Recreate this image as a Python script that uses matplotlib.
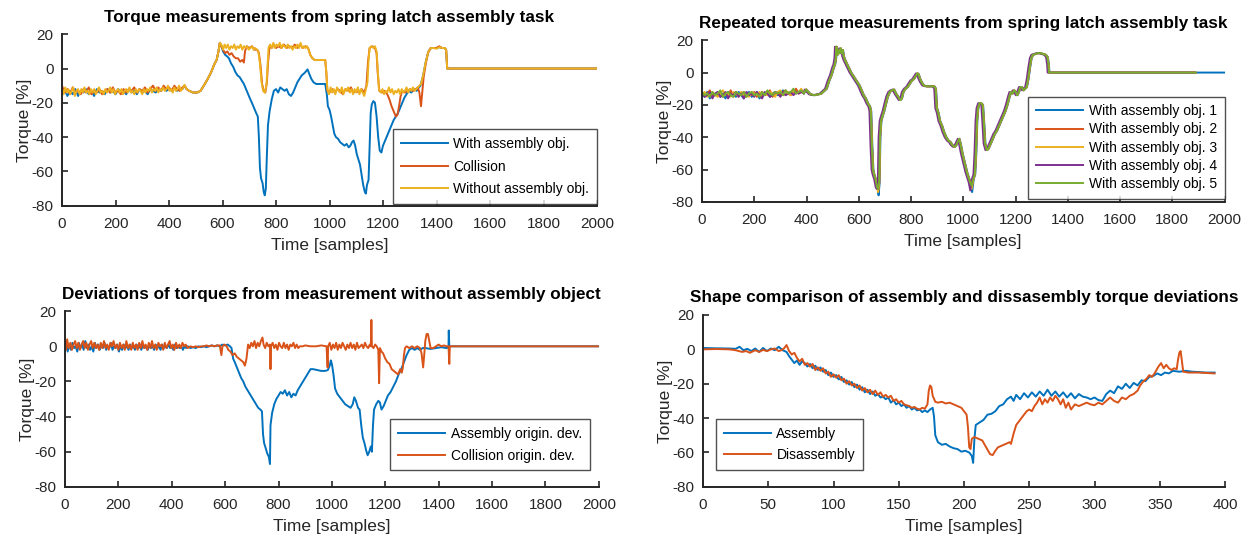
import matplotlib
matplotlib.use('Agg')
import matplotlib.pyplot as plt

plt.rcParams['font.family'] = ['Liberation Sans', 'DejaVu Sans']
plt.rcParams['axes.unicode_minus'] = False

# MATLAB default line colours
c_blue = '#0072BD'
c_orange = '#D95319'
c_yellow = '#EDB120'
c_purple = '#7E2F8E'
c_green = '#77AC30'

# ---------------- panel 1: torque measurements (sample, torque %) ----------------
p1_with = [(0,-14),(10,-12),(20,-16),(30,-13),(40,-15),(50,-12),(60,-16),(70,-13),(80,-14),(90,-12),
    (100,-15),(110,-13),(120,-16),(130,-12),(140,-14),(150,-13),(160,-15),(170,-12),(180,-14),(190,-13),
    (200,-15),(210,-12),(220,-14),(230,-13),(240,-15),(250,-12),(260,-14),(270,-13),(280,-15),(290,-12),
    (300,-14),(310,-13),(320,-15),(330,-12),(340,-13),(350,-14),(360,-12),(370,-13),(380,-11),(390,-13),
    (400,-12),(410,-13),(420,-11),(430,-13),(440,-12),(450,-12),
    (458,-10),(466,-12),(475,-13),(490,-14),(505,-14),(518,-13),(530,-10),(545,-6),(558,-2),(568,2),
    (578,5),(585,10),(590,15),(596,13),(602,10),(610,8),(618,7),(624,6),(632,3),(640,1),(648,-2),
    (656,-4),(664,-5),(672,-7),(680,-9),(688,-12),(696,-15),(704,-18),(710,-20),(718,-23),(726,-26),
    (732,-28),(736,-40),(740,-58),(744,-64),(750,-67),(754,-72),(758,-74),(762,-70),(766,-50),(770,-33),
    (776,-25),(784,-18),(792,-13),(800,-12),(808,-14),(816,-11),(824,-12),(832,-13),(840,-12),(848,-15),
    (856,-16),(864,-14),(872,-11),(880,-8),(888,-6),(896,-4),(904,-3),(910,-2),(918,-0.5),(924,-3),
    (932,-6),(940,-8),(950,-9),(965,-9),(984,-9),(990,-15),(994,-22),(1000,-24),(1006,-28),(1012,-33),
    (1018,-38),(1024,-40),(1032,-41),(1040,-43),(1048,-44),(1056,-45),(1064,-44),(1072,-46),(1078,-45),
    (1084,-43),(1090,-42),(1096,-45),(1102,-50),(1108,-53),(1114,-56),(1120,-62),(1126,-68),(1132,-72),
    (1136,-73),(1140,-68),(1146,-65),(1150,-45),(1154,-26),(1158,-21),(1164,-19),(1170,-20),(1176,-28),
    (1182,-40),(1188,-48),(1194,-49),(1200,-45),(1208,-42),(1216,-39),(1224,-36),(1232,-33),(1240,-30),
    (1248,-28),(1256,-26),(1264,-23),(1272,-20),(1280,-17),(1288,-15),(1296,-13),(1306,-14),(1316,-12),
    (1326,-13),(1334,-11),(1340,-10),(1350,-4),(1360,4),(1370,10),(1380,12),(1390,12),(1400,12),
    (1410,12.5),(1420,12),(1430,12),(1436,11),(1440,0),(2000,0)]

p1_collision = [(0,-10),(10,-14),(20,-12),(30,-15),(40,-11),(50,-14),(60,-13),(70,-15),(80,-12),(90,-14),
    (100,-11),(110,-15),(120,-13),(130,-14),(140,-12),(150,-15),(160,-13),(170,-12),(180,-14),(190,-11),
    (200,-14),(210,-13),(220,-15),(230,-12),(240,-14),(250,-12),(260,-13),(270,-11),(280,-14),(290,-12),
    (300,-13),(310,-11),(320,-14),(330,-12),(340,-10),(350,-13),(360,-11),(370,-13),(380,-10),(390,-12),
    (400,-11),(410,-13),(420,-10),(430,-12),(440,-13),(450,-11),
    (458,-10),(466,-12),(475,-13),(490,-14),(505,-14),(518,-13),(530,-10),(545,-6),(558,-2),(568,2),
    (578,5),(585,10),(590,15),(596,13),(602,11),(610,9),(618,10),(626,8),(634,9),(642,7),(650,6),
    (658,6),(666,4),(674,5),(680,3.5),(684,10),(690,13),(700,12),(710,13),(720,11),(730,11),(736,9),
    (742,2),(748,-9),(754,-13),(760,-14),(766,-8),(770,3),(776,13),(784,12),(792,14),(800,12),(810,13),
    (820,12),(830,14),(840,12),(850,13),(860,12),(870,14),(880,12),(890,14),(900,12),(910,13),(920,12),
    (928,8),(936,6),(945,5),(960,5),(975,5),(984,5),(988,-2),(992,-13),(1000,-14),(1010,-12),(1020,-14),
    (1030,-12),(1040,-13),(1050,-15),(1060,-12),(1070,-13),(1080,-11),(1090,-14),(1100,-13),(1110,-14),
    (1120,-12),(1130,-14),(1138,-10),(1144,4),(1150,12),(1160,13),(1170,12),(1176,9),(1180,-2),
    (1186,-13),(1196,-14),(1206,-13),(1216,-15),(1224,-18),(1232,-22),(1240,-25),(1248,-28),(1254,-27),
    (1260,-22),(1266,-16),(1272,-13),(1282,-14),(1292,-13),(1302,-12),(1312,-13),(1322,-12),(1330,-11),
    (1336,-14),(1342,-22),(1346,-15),(1352,-5),(1360,3),(1368,9),(1378,12),(1390,12),(1400,12),
    (1410,13),(1420,12),(1430,12),(1436,11),(1440,0),(2000,0)]

p1_without = [(0,-12),(6,-15),(12,-11),(18,-14),(24,-12),(30,-15),(36,-13),(42,-11),(48,-16),(54,-13),
    (60,-12),(66,-15),(72,-12),(78,-14),(84,-11),(90,-14),(96,-13),(102,-15),(108,-12),(114,-14),
    (120,-12),(126,-15),(132,-13),(138,-11),(144,-14),(150,-13),(156,-15),(162,-12),(168,-14),(174,-13),
    (180,-11),(186,-14),(192,-12),(198,-15),(204,-13),(210,-12),(216,-14),(222,-12),(228,-15),(234,-13),
    (240,-12),(246,-14),(252,-11),(258,-14),(264,-13),(270,-15),(276,-12),(282,-14),(288,-12),(294,-13),
    (300,-15),(306,-12),(312,-14),(318,-12),(324,-13),(330,-11),(336,-14),(342,-12),(348,-13),(354,-11),
    (360,-14),(366,-12),(372,-13),(378,-11),(384,-13),(390,-12),(396,-10),(402,-13),(408,-12),(414,-14),
    (420,-11),(426,-13),(432,-12),(438,-10),(444,-13),(450,-12),
    (458,-9.5),(466,-12),(475,-13),(490,-14),(505,-14),(518,-13),(530,-10),(545,-6),(558,-2),(568,2),
    (578,5),(585,10),(590,15),(596,14),(602,11),(608,14),(614,12),(620,14),(626,11),(632,13),(638,12),
    (644,14),(650,11),(656,13),(662,12),(668,14),(674,11),(680,13),(686,12),(692,13),(698,11),(704,12),
    (710,13),(716,11),(722,12),(728,11),(734,10),(740,3),(746,-8),(752,-13),(758,-14),(764,-10),(768,0),
    (772,12),(778,14),(784,12),(790,15),(796,12),(802,14),(808,13),(814,15),(820,12),(826,14),(832,13),
    (838,12),(844,14),(850,12),(856,13),(862,11),(868,13),(874,12),(880,14),(886,12),(892,15),(898,12),
    (904,13),(910,12),(916,13),(922,11),(928,8),(936,6),(945,5),(960,5),(975,5),(984,5),(988,-2),
    (992,-12),(998,-15),(1004,-11),(1010,-14),(1016,-12),(1022,-15),(1028,-11),(1034,-13),(1040,-14),
    (1046,-11),(1052,-15),(1058,-12),(1064,-13),(1070,-11),(1076,-14),(1082,-12),(1088,-15),(1094,-12),
    (1100,-14),(1106,-11),(1112,-15),(1118,-12),(1124,-14),(1130,-16),(1136,-12),(1142,-8),(1146,5),
    (1150,12),(1156,13),(1164,12),(1170,13),(1176,10),(1180,0),(1185,-12),(1192,-14),(1198,-12),
    (1204,-15),(1210,-13),(1216,-14),(1222,-11),(1228,-14),(1234,-12),(1240,-15),(1246,-13),(1252,-14),
    (1258,-12),(1264,-15),(1270,-12),(1276,-14),(1282,-13),(1288,-11),(1294,-14),(1300,-12),(1306,-13),
    (1312,-11),(1318,-13),(1324,-12),(1330,-11),(1336,-10),(1342,-9),(1350,-4),(1360,4),(1370,10),
    (1380,12),(1390,12),(1400,11.5),(1410,12.5),(1420,12),(1430,12),(1436,11),(1440,0),(2000,0)]

p1_labels = ['With assembly obj.', 'Collision', 'Without assembly obj.']

# ---------------- panel 2: five repetitions ----------------
rep_base_x = [0,10,20,30,40,50,60,70,80,90,100,110,120,130,140,150,160,170,180,190,
              200,210,220,230,240,250,260,270,280,290,300,310,320,330,340,350,360,370,380,390]
rep_noise = [
    [-13,-15,-12,-16,-13,-14,-12,-15,-13,-16,-12,-14,-13,-15,-12,-14,-16,-13,-12,-15,
     -14,-12,-16,-13,-14,-12,-15,-13,-12,-14,-13,-11,-14,-12,-13,-11,-13,-12,-11,-13],
    [-12,-14,-13,-11,-15,-13,-14,-12,-15,-13,-14,-11,-15,-12,-14,-13,-12,-15,-13,-14,
     -12,-15,-13,-12,-14,-13,-11,-15,-13,-12,-14,-12,-11,-13,-14,-12,-10,-13,-12,-12],
    [-14,-12,-15,-13,-12,-14,-15,-13,-11,-14,-13,-15,-12,-13,-15,-12,-14,-13,-15,-12,
     -13,-14,-12,-15,-13,-14,-12,-13,-15,-12,-11,-14,-13,-12,-14,-11,-13,-12,-10,-13],
    [-13,-15,-14,-12,-16,-13,-12,-15,-14,-12,-16,-13,-14,-12,-15,-13,-16,-12,-14,-13,
     -15,-12,-14,-16,-12,-13,-15,-14,-12,-13,-15,-12,-14,-13,-12,-14,-12,-13,-12,-13],
    [-12,-14,-13,-15,-12,-14,-13,-11,-15,-13,-12,-14,-15,-12,-13,-14,-12,-15,-13,-12,
     -14,-13,-15,-12,-14,-11,-13,-14,-12,-13,-12,-14,-11,-13,-12,-10,-13,-12,-11,-13]]
rep_trace = [(398,-10.5),(406,-12),(415,-13.5),(430,-14),(445,-13.5),(456,-13),(466,-11.5),(476,-10),
    (486,-5),(495,-1.5),(503,3),(508,5),(512,9),(514,16),(518,11),(522,14),(526,12),(530,15),(534,12),
    (538,14),(542,10),(546,8),(552,6),(558,4),(564,2),(570,0),(578,-2),(586,-4),(594,-6),(602,-8),
    (610,-11),(618,-14),(626,-16),(634,-19),(642,-21),(646,-24),(650,-45),(654,-60),(658,-63),(664,-66),
    (670,-71),(674,-73),(678,-68),(681,-40),(685,-30),(690,-27),(696,-24),(702,-20),(710,-15),(718,-12),
    (726,-11),(734,-10.5),(742,-13),(750,-15),(758,-17),(764,-16),(770,-12),(778,-10),(786,-9),(794,-7),
    (802,-5),(810,-4),(818,-2),(824,-0.5),(828,-1),(834,-4),(840,-6),(848,-8),(860,-8.5),(875,-8.5),
    (888,-8.5),(894,-10),(898,-22),(904,-25),(910,-30),(918,-33),(926,-37),(934,-40),(942,-42),(950,-43),
    (958,-45),(966,-46),(972,-45),(978,-43),(984,-41),(990,-45),(996,-50),(1002,-54),(1008,-58),
    (1014,-62),(1020,-65),(1026,-68),(1032,-70),(1038,-66),(1044,-63),(1048,-50),(1052,-30),(1056,-22),
    (1062,-19),(1068,-19),(1074,-20),(1078,-30),(1083,-44),(1090,-48),(1096,-47),(1104,-44),(1112,-41),
    (1120,-38),(1128,-36),(1136,-33),(1144,-30),(1152,-27),(1160,-24),(1168,-20),(1176,-15),(1182,-12),
    (1188,-13),(1194,-11),(1200,-12),(1206,-14),(1212,-12),(1218,-9),(1224,-9),(1230,-11),(1236,-10),
    (1242,-9),(1248,-4),(1254,3),(1260,9),(1266,11),(1275,11.5),(1285,12),(1295,12),(1305,11.5),
    (1315,11),(1322,9.5),(1326,5),(1328,0)]
rep_dip1 = [-76, -73, -74, -72, -72]      # torque at the first dip (sample 674)
rep_dip2 = [-74, -71, -72, -73, -70]      # torque at the second dip (sample 1032)
rep_shift = [2, 1, 0, -5, 0]              # small time offset of each repetition
rep_end = [2000, 1890, 1885, 1885, 1890]  # last sample of each recording
rep_labels = ['With assembly obj. 1', 'With assembly obj. 2', 'With assembly obj. 3',
              'With assembly obj. 4', 'With assembly obj. 5']

# ---------------- panel 3: deviations ----------------
p3_assembly = [(0,-1),(5,3),(10,-3),(16,1),(22,-2),(28,2),(34,-1),(40,0),(46,-3),(52,2),(58,-1),(64,1),
    (70,-2),(76,3),(82,-1),(88,1),(94,-2),(100,0),(106,-3),(112,2),(118,-1),(124,1),(130,-2),(136,1),
    (142,-1),(148,2),(154,-2),(160,0),(166,-1),(172,2),(178,-2),(184,0),(190,-1),(196,1),(202,-3),(208,0),
    (214,-2),(220,1),(226,-1),(232,0),(238,-2),(244,1),(250,-1),(256,0),(262,-2),(268,1),(274,-1),(280,0),
    (286,-2),(292,1),(298,-1),(304,0),(310,-2),(316,1),(322,-1),(328,0),(334,-2),(340,1),(346,-1),(352,0),
    (358,-2),(364,1),(370,-1),(376,0),(382,-1),(388,1),(394,-1),(400,0),(406,-2),(412,1),(418,-1),(424,0),
    (430,-1),(436,0),(442,-2),(448,0),(454,-1),(460,0),(470,-1),(480,-0.5),(490,-1),(500,0),(510,-0.5),
    (520,0),(530,-0.5),(540,0),(550,0.5),(560,0),(570,0.5),(580,0),(590,1),(600,0.5),(610,1),(618,0),
    (624,-1),(630,-7),(636,-9),(644,-12),(652,-15),(660,-18),(668,-20),(676,-23),(684,-25),(692,-27),
    (700,-29),(708,-31),(716,-33),(724,-35),(732,-36),(738,-37),(742,-50),(746,-55),(752,-58),(758,-61),
    (764,-63),(768,-67),(770,-45),(776,-38),(784,-33),(792,-30),(800,-28),(808,-26),(816,-27),(824,-25),
    (832,-28),(840,-26),(848,-29),(856,-27),(864,-28),(872,-25),(880,-23),(888,-21),(896,-19),(904,-17),
    (912,-15),(920,-13),(930,-13),(945,-13.5),(960,-14),(975,-14),(985,-13.5),(992,-11),(996,-8),
    (1000,-10),(1006,-16),(1012,-24),(1020,-27),(1030,-29),(1040,-31),(1050,-33),(1060,-34),(1070,-35),
    (1078,-33),(1084,-29),(1090,-31),(1098,-35),(1104,-36),(1110,-45),(1116,-52),(1122,-55),(1128,-59),
    (1134,-62),(1140,-60),(1146,-57),(1150,-60),(1154,-45),(1158,-36),(1166,-33),(1174,-31),(1180,-32),
    (1186,-36),(1194,-34),(1202,-31),(1210,-28),(1220,-26),(1230,-23),(1240,-20),(1250,-16),(1260,-13),
    (1270,-9),(1280,-5),(1290,-2),(1300,-1),(1310,-2),(1320,-1),(1330,-2),(1340,-1),(1350,-1),
    (1370,-1.5),(1390,-1),(1410,-0.5),(1430,-1),(1437,-0.5),(1438,9),(1440,0),(2000,0)]

p3_collision = [(0,2),(4,-2),(8,4),(14,-1),(20,2),(26,-2),(32,1),(38,3),(44,-1),(50,2),(56,-2),(62,1),
    (68,3),(74,-1),(80,2),(86,-2),(92,1),(98,3),(104,-1),(110,2),(116,-1),(122,1),(128,-2),(134,2),
    (140,-1),(146,3),(152,-1),(158,1),(164,-2),(170,2),(176,0),(182,3),(188,-1),(194,1),(200,-2),(206,2),
    (212,-1),(218,1),(224,-2),(230,3),(236,-1),(242,1),(248,-2),(254,2),(260,-1),(266,1),(272,-2),(278,2),
    (284,-1),(290,3),(296,-1),(302,1),(308,-2),(314,2),(320,-1),(326,3),(332,-1),(338,1),(344,-2),(350,2),
    (356,0),(362,1),(368,-2),(374,2),(380,-1),(386,1),(392,3),(398,-1),(404,1),(410,-2),(416,2),(422,-1),
    (428,1),(434,-1),(440,2),(446,0),(452,1),(460,-1),(470,0),(480,-0.5),(490,0),(500,-0.5),(510,0),
    (520,0),(530,0.5),(540,0),(550,0.5),(560,0),(570,0.5),(580,0.5),(586,-5),(590,0),(598,1),(606,0),
    (612,-2),(620,-3),(628,-5),(636,-4),(644,-6),(652,-7),(660,-8),(668,-9),(674,-11),(680,-7),(686,1),
    (692,-1),(698,2),(704,0),(710,3),(716,-1),(722,2),(728,0),(734,3),(740,5),(744,1),(750,-1),(756,2),
    (762,0),(768,1),(770,-13),(772,0),(778,2),(784,-1),(790,1),(796,-2),(802,2),(808,0),(814,-1),(820,2),
    (826,-1),(832,1),(838,-2),(844,1),(850,0),(856,2),(862,-1),(868,1),(874,-1),(880,0),(890,0),
    (900,0.5),(920,0),(940,0),(960,0.5),(980,0),(984,-12),(986,0),(992,2),(998,-2),(1004,1),(1010,-1),
    (1016,2),(1022,-2),(1028,1),(1034,-1),(1040,2),(1046,0),(1052,-2),(1058,1),(1064,-1),(1070,2),
    (1076,-1),(1082,1),(1088,-2),(1094,2),(1100,-1),(1106,0),(1112,1),(1118,-1),(1124,2),(1130,0),
    (1136,-1),(1142,1),(1146,0),(1148,15),(1150,0),(1156,-1),(1162,1),(1168,0),(1174,-2),(1177,-21),
    (1180,-1),(1186,-3),(1192,-4),(1200,-7),(1208,-9),(1216,-10),(1224,-13),(1232,-14),(1240,-15),
    (1248,-16),(1256,-13),(1262,-15),(1266,-12),(1270,-5),(1274,-1),(1280,0),(1290,-1),(1300,0),
    (1310,-1),(1320,0),(1330,-1),(1336,-4),(1342,-12),(1346,-5),(1350,3),(1355,7),(1360,7),(1365,3),
    (1370,-1),(1380,-1),(1390,0),(1400,1),(1410,0),(1420,0.5),(1430,0),(1437,0),(1440,-10),(1442,0),
    (2000,0)]

p3_labels = ['Assembly origin. dev.', 'Collision origin. dev.']

# ---------------- panel 4: shape comparison ----------------
p4_assembly = [(0,0.8),(10,0.6),(20,0.5),(25,0.3),(28,1.5),(31,-0.5),(34,0.3),(37,-1),(40,0.5),(43,-1.5),
    (46,0.8),(49,-1),(52,0.5),(55,-0.5),(58,1.5),(61,-0.5),(64,-1.5),(66,-4),(68,-6),(70,-8),(72,-6.5),
    (74,-9),(76,-7),(78,-8),(80,-10),(82,-8.5),(84,-11),(86,-9.5),(88,-12),(90,-10.5),(92,-13),(94,-12),
    (96,-15),(98,-13.5),(100,-16),(102,-15),(104,-17.5),(106,-16),(108,-19),(110,-18),(112,-20.5),
    (114,-19),(116,-22),(118,-20.5),(120,-23.5),(122,-22),(124,-25),(126,-23.5),(128,-26),(130,-24.5),
    (132,-27),(134,-26),(136,-28),(138,-27.5),(140,-29),(142,-28),(144,-31),(146,-29.5),(148,-32),
    (150,-31),(152,-33),(154,-32),(156,-34),(158,-33),(160,-35),(162,-34),(164,-35.5),(166,-35),
    (168,-36.5),(170,-35.5),(172,-36.5),(174,-35),(176,-34),(177,-39),(178,-50),(180,-54),(183,-55.5),
    (186,-55),(189,-56.5),(192,-57.5),(195,-58),(198,-59.5),(201,-59),(204,-60),(206,-62),(207,-66),
    (208,-52),(209,-44),(212,-42.5),(215,-41),(218,-38),(221,-37.5),(224,-36),(227,-33),(230,-32),
    (233,-29),(236,-27.5),(238,-30),(240,-26.5),(243,-29),(246,-25.5),(249,-28),(252,-25),(255,-27.5),
    (258,-24.5),(261,-27),(264,-23.5),(267,-27),(270,-24.5),(273,-27.5),(276,-25),(279,-28),(282,-25.5),
    (285,-28.5),(288,-26),(291,-27.5),(294,-28),(297,-29),(300,-28),(303,-29.5),(306,-30),(309,-26),
    (312,-24),(315,-25.5),(318,-21.5),(321,-23),(324,-20),(327,-22.5),(330,-19.5),(333,-21),(336,-18),
    (339,-18.5),(342,-16),(345,-15.5),(348,-14),(351,-15),(354,-13.5),(357,-14),(360,-12.5),(365,-13),
    (370,-12.5),(375,-13),(380,-13.2),(385,-13.5),(392,-13.5)]

p4_disassembly = [(0,0),(10,0.2),(20,0),(25,-0.5),(30,-1.5),(33,-1),(36,-2),(40,-0.5),(43,-1.5),
    (46,-0.3),(49,-1),(52,0),(55,0.5),(58,-1),(60,-0.5),(62,0.5),(64,2.5),(66,-1),(68,-3),(70,-2),(72,-5),
    (74,-7),(76,-5.5),(78,-9),(80,-8),(82,-10),(84,-8.5),(86,-12),(88,-10.5),(90,-12.5),(92,-11),(94,-14),
    (96,-13),(98,-16),(100,-14.5),(102,-16.5),(104,-15),(106,-18),(108,-17),(110,-20),(112,-18.5),
    (114,-21),(116,-20),(118,-22.5),(120,-21),(122,-24),(124,-22.5),(126,-25),(128,-23.5),(130,-26),
    (132,-24),(134,-26.5),(136,-25),(138,-27.5),(140,-26.5),(142,-28),(144,-27),(146,-30),(148,-29),
    (150,-31),(152,-30),(154,-32),(156,-32.5),(158,-33),(160,-34),(162,-33.5),(164,-34.5),(166,-35),
    (168,-34),(170,-34.5),(172,-32),(173,-24),(174,-21),(175,-22),(176,-27),(178,-30.5),(180,-31),
    (183,-30.5),(186,-31.5),(189,-31),(192,-32),(195,-33),(198,-34),(200,-36),(202,-38),(203,-45),
    (204,-57),(205,-58),(206,-52),(208,-51),(211,-52),(214,-53),(217,-57),(220,-61),(222,-61.5),
    (224,-59),(226,-57),(229,-56),(232,-55),(235,-54),(236,-55),(238,-49),(240,-44),(242,-42),(244,-40),
    (246,-38),(248,-36),(250,-35),(252,-36),(254,-33),(256,-31),(258,-28),(260,-32),(262,-29),(264,-31),
    (266,-28),(268,-30),(270,-27),(272,-29),(274,-32),(276,-29),(278,-34),(280,-31),(282,-35),(285,-32),
    (288,-33),(291,-32),(294,-31),(297,-32),(300,-32.5),(303,-31),(306,-32),(309,-30),(312,-28),(315,-30),
    (318,-31),(321,-28),(324,-29),(327,-27),(330,-26),(333,-24),(335,-21),(337,-19),(340,-17),(342,-15),
    (344,-16),(346,-14),(349,-10),(351,-8),(353,-11),(355,-9),(357,-11),(359,-12),(361,-11),(363,-11.5),
    (364,-6),(365,-2),(366,-1),(367,-7),(368,-13),(372,-13.5),(380,-13.5),(392,-14)]

p4_labels = ['Assembly', 'Disassembly']

titles = ['Torque measurements from spring latch assembly task',
          'Repeated torque measurements from spring latch assembly task',
          'Deviations of torques from measurement without assembly object',
          'Shape comparison of assembly and dissasembly torque deviations']

ax_col = '#262626'


def xy(pairs):
    return [p[0] for p in pairs], [p[1] for p in pairs]


def style(ax, title, xmax, xstep):
    ax.set_xlim(0, xmax)
    ax.set_ylim(-80, 20)
    ax.set_xticks(range(0, xmax + 1, xstep))
    ax.set_yticks(range(-80, 21, 20))
    ax.spines['top'].set_visible(False)
    ax.spines['right'].set_visible(False)
    for s in ['left', 'bottom']:
        ax.spines[s].set_linewidth(1.4)
        ax.spines[s].set_color(ax_col)
    ax.tick_params(direction='in', length=4.5, width=1.2, colors=ax_col, labelsize=11)
    ax.tick_params(axis='x', pad=8)
    ax.tick_params(axis='y', pad=6)
    ax.set_xlabel('Time [samples]', fontsize=12.5, color=ax_col, labelpad=5)
    ax.set_ylabel('Torque [%]', fontsize=12.5, color=ax_col, labelpad=0)
    ax.set_title(title, fontsize=12.3, fontweight='bold', pad=9)


def legend(ax, loc, anchor, spacing):
    lg = ax.legend(loc=loc, bbox_to_anchor=anchor, fontsize=10, frameon=True, fancybox=False,
                   edgecolor=ax_col, handlelength=3.4, borderaxespad=0, borderpad=0.55,
                   labelspacing=spacing, handletextpad=0.4)
    lg.get_frame().set_linewidth(1.0)
    return lg


fig = plt.figure(figsize=(12.5, 5.44), dpi=100)
ax1 = fig.add_axes([0.0496, 0.622, 0.428, 0.315])
ax2 = fig.add_axes([0.5616, 0.629, 0.418, 0.297])
ax3 = fig.add_axes([0.052, 0.105, 0.427, 0.323])
ax4 = fig.add_axes([0.5624, 0.105, 0.4176, 0.316])

lw = 1.4

# panel 1
for data, col, lab in zip([p1_with, p1_collision, p1_without], [c_blue, c_orange, c_yellow], p1_labels):
    x, y = xy(data)
    ax1.plot(x, y, color=col, lw=lw, label=lab)
style(ax1, titles[0], 2000, 200)
legend(ax1, 'lower right', (1.0, 0.01), 0.62)

# panel 2
rep_colors = [c_blue, c_orange, c_yellow, c_purple, c_green]
for i in range(5):
    tx, ty = xy(rep_trace)
    ty = [rep_dip1[i] if t == 674 else rep_dip2[i] if t == 1032 else v for t, v in zip(tx, ty)]
    tx = [t + rep_shift[i] for t in tx]
    x = rep_base_x + tx + [rep_end[i]]
    y = rep_noise[i] + ty + [0]
    ax2.plot(x, y, color=rep_colors[i], lw=lw, label=rep_labels[i])
style(ax2, titles[1], 2000, 200)
legend(ax2, 'lower right', (1.0, 0.02), 0.3)

# panel 3
for data, col, lab in zip([p3_assembly, p3_collision], [c_blue, c_orange], p3_labels):
    x, y = xy(data)
    ax3.plot(x, y, color=col, lw=lw, label=lab)
style(ax3, titles[2], 2000, 200)
legend(ax3, 'lower right', (0.983, 0.095), 0.55)

# panel 4
for data, col, lab in zip([p4_assembly, p4_disassembly], [c_blue, c_orange], p4_labels):
    x, y = xy(data)
    ax4.plot(x, y, color=col, lw=lw, label=lab)
style(ax4, titles[3], 400, 50)
legend(ax4, 'lower left', (0.025, 0.1), 0.5)

fig.savefig('out.png', dpi=100)
